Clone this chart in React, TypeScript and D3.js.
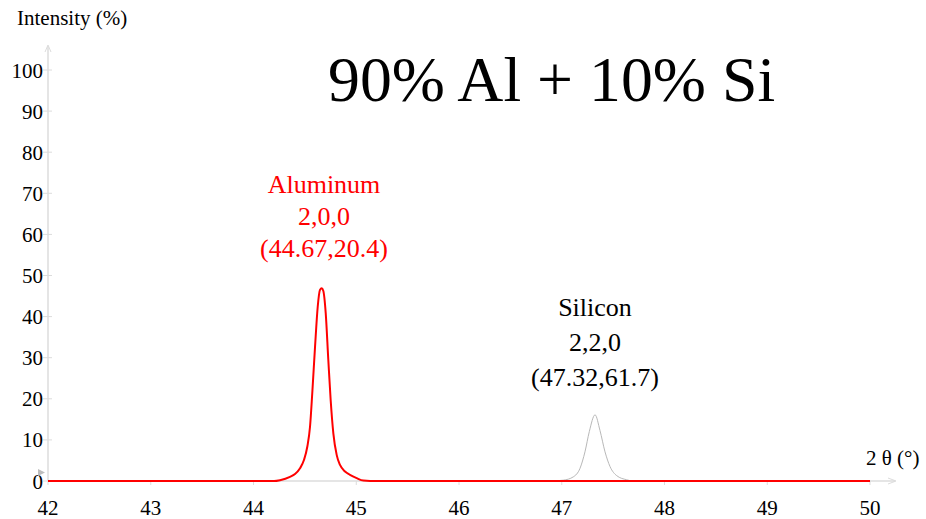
import React from "react";
import * as d3 from "d3";

// Aluminum (2,0,0) profile, plus flat baseline over 42..50
const alX = [42, 44.2, 44.258, 44.355, 44.404, 44.453, 44.491, 44.524, 44.55, 44.572, 44.599, 44.625, 44.647, 44.664, 44.679, 44.703, 44.728, 44.751, 44.777, 44.81, 44.842, 44.891, 44.939, 45.004, 45.069, 45.134, 50];
const alY = [0, 0, 0.2, 1.0, 1.7, 3.1, 5.1, 8.4, 13.2, 21.4, 32.7, 42.4, 46.5, 46.9, 46.3, 40.8, 29.5, 19.7, 11.6, 6.3, 3.9, 2.3, 1.5, 0.7, 0.1, 0, 0];

// Silicon (2,2,0) profile
const siX = [46.9, 47.015, 47.112, 47.178, 47.226, 47.268, 47.324, 47.372, 47.421, 47.47, 47.535, 47.632, 47.693, 47.8];
const siY = [0, 0.2, 1.0, 3.1, 7.1, 12.0, 16.1, 12.3, 7.1, 3.5, 1.3, 0.3, 0, 0];

const xTicks = [42, 43, 44, 45, 46, 47, 48, 49, 50];
const yTicks = [0, 10, 20, 30, 40, 50, 60, 70, 80, 90, 100];

const alLabel = ["Aluminum", "2,0,0", "(44.67,20.4)"];
const siLabel = ["Silicon", "2,2,0", "(47.32,61.7)"];
const title = "90% Al + 10% Si";
const yTitle = "Intensity (%)";
const xTitle = "2 θ (°)";

const FONT = "'Liberation Serif', 'Times New Roman', Times, serif";
const AXIS = "#dcdcdc";

export default function App() {
  const W = 926, H = 519;
  const x = d3.scaleLinear().domain([42, 50]).range([48, 870]);
  const y = d3.scaleLinear().domain([0, 100]).range([481, 70]);

  const alPath = d3
    .line<number>()
    .x((d, i) => x(alX[i]))
    .y((d) => y(d))
    .curve(d3.curveMonotoneX)(alY) as string;
  const siPath = d3
    .line<number>()
    .x((d, i) => x(siX[i]))
    .y((d) => y(d))
    .curve(d3.curveMonotoneX)(siY) as string;

  const x0 = x(42), y0 = y(0);

  return (
    <svg width={W} height={H} style={{ position: "absolute", left: 0, top: 0, background: "#fff" }} fontFamily={FONT}>
      {/* y axis */}
      <line x1={x0} y1={y0} x2={x0} y2={46} stroke={AXIS} strokeWidth={1.5} />
      <path d={`M${x0 - 3},${52} L${x0},${45} L${x0 + 3},${52}`} fill="none" stroke={AXIS} strokeWidth={1} />
      {yTicks.map((t) => (
        <g key={t}>
          <line x1={x0 - 5} x2={x0 + 4} y1={y(t)} y2={y(t)} stroke={AXIS} strokeWidth={1} />
          <text x={43} y={y(t)} dy="0.36em" textAnchor="end" fontSize={21} fill="#000">
            {t}
          </text>
        </g>
      ))}
      {/* x axis */}
      <line x1={x0} y1={y0} x2={895} y2={y0} stroke={AXIS} strokeWidth={1.5} />
      <path d={`M${888},${y0 - 3} L${896},${y0} L${888},${y0 + 3}`} fill="none" stroke={AXIS} strokeWidth={1} />
      {xTicks.map((t) => (
        <g key={t}>
          <line x1={x(t)} x2={x(t)} y1={y0} y2={y0 + 4} stroke={AXIS} strokeWidth={1} />
          <text x={x(t)} y={515} textAnchor="middle" fontSize={21} fill="#000">
            {t}
          </text>
        </g>
      ))}
      {/* small marker at origin */}
      <path d={`M${x0 - 10},${y0 - 12} L${x0 - 3},${y0 - 8.5} L${x0 - 10},${y0 - 5} Z`} fill="#bdbdbd" />

      {/* series */}
      <path d={siPath} fill="none" stroke="#b8b8b8" strokeWidth={1} />
      <path d={alPath} fill="none" stroke="#ff0000" strokeWidth={2} />

      {/* titles */}
      <text x={17} y={25} fontSize={21} fill="#000">{yTitle}</text>
      <text x={866} y={465} fontSize={21} fill="#000">{xTitle}</text>
      <text x={328} y={101} fontSize={63.8} fill="#000">{title}</text>

      {/* peak labels */}
      {alLabel.map((s, i) => (
        <text key={s} x={324} y={193 + i * 32} textAnchor="middle" fontSize={26} fill="#ff0000">{s}</text>
      ))}
      {siLabel.map((s, i) => (
        <text key={s} x={595} y={316 + i * 35} textAnchor="middle" fontSize={26} fill="#000">{s}</text>
      ))}
    </svg>
  );
}
